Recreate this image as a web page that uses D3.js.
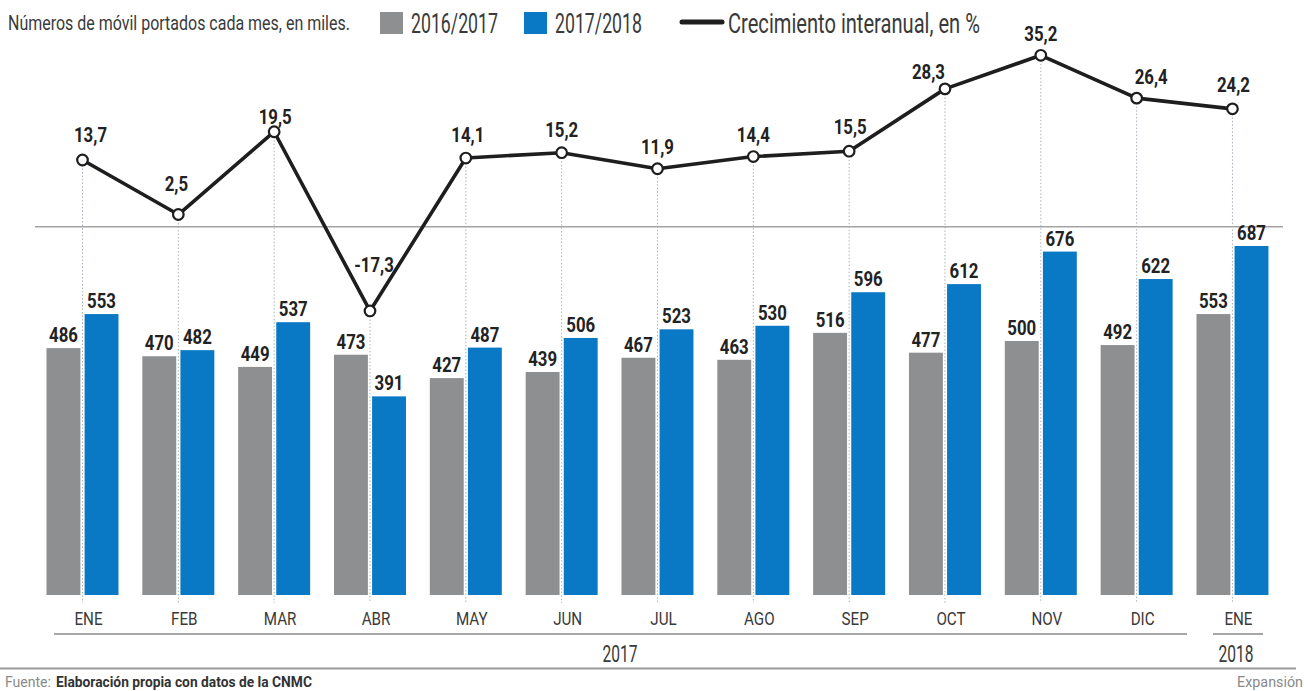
<!DOCTYPE html>
<html><head><meta charset="utf-8">
<script src="https://cdn.jsdelivr.net/npm/d3@7"></script>
<style>
html,body{margin:0;padding:0;background:#fff;}
svg text{font-family:Roboto,"Liberation Sans",sans-serif;}
</style></head>
<body><svg id="c" width="1308" height="691"></svg>
<script>
const months = ["ENE","FEB","MAR","ABR","MAY","JUN","JUL","AGO","SEP","OCT","NOV","DIC","ENE"];
const years = ["2017","2018"];
const series2016 = [486,470,449,473,427,439,467,463,516,477,500,492,553];
const series2017 = [553,482,537,391,487,506,523,530,596,612,676,622,687];
const growth = [13.7,2.5,19.5,-17.3,14.1,15.2,11.9,14.4,15.5,28.3,35.2,26.4,24.2];
const seriesNames = ["2016/2017","2017/2018"];
const title = "Números de móvil portados cada mes, en miles.";
const lineName = "Crecimiento interanual, en %";
const sourceLabel = "Fuente:";
const sourceText = "Elaboración propia con datos de la CNMC";
const brand = "Expansión";

const GRAY = "#8e8f91", BLUE = "#0a79c5", INK = "#1e1e1e", TXT = "#3a3a3a";
const svg = d3.select("#c");
const fmt = v => String(v).replace(".", ",");

// condensed text: glyphs scaled horizontally around their anchor point
function condensed(sel, fx, fy, f){
  return sel.attr("x",0).attr("y",0)
    .attr("transform",(d,i)=>`translate(${fx(d,i)},${fy(d,i)}) scale(${f},1)`);
}
function single(x, y, str, width, attrs){
  const t = svg.append("text").text(str);
  Object.entries(attrs).forEach(([k,v])=>t.attr(k,v));
  const w = t.node().getComputedTextLength();
  t.attr("transform",`translate(${x},${y}) scale(${width/w},1)`);
  return t;
}

const idx = d3.range(months.length);
const step = 95.83;
const x0 = d3.scaleBand().domain(idx).range([82.5 - step/2, 82.5 - step/2 + step*13])
  .paddingInner(0.2487).paddingOuter(0.1243);
const x1 = d3.scaleBand().domain([0,1]).range([0, x0.bandwidth()]).paddingInner(0.11);
const cx = i => x0(i) + x0.bandwidth()/2;
const yBar = d3.scaleLinear().domain([0,700]).range([595, 595 - 700*0.508]);
const yLine = d3.scaleLinear().domain([-20,40]).range([226.7 + 20*4.87, 226.7 - 40*4.87]);

// zero line of growth
svg.append("line").attr("x1",35).attr("x2",1283).attr("y1",yLine(0)).attr("y2",yLine(0))
  .attr("stroke","#a3a3a3").attr("stroke-width",1.6);

// dotted guides
svg.append("g").selectAll("line").data(idx).join("line")
  .attr("x1",i=>cx(i)).attr("x2",i=>cx(i))
  .attr("y1",i=>yLine(growth[i])+5).attr("y2",603)
  .attr("stroke","#a9b2bb").attr("stroke-width",1).attr("stroke-dasharray","1.5,2");

// bars
const sets = [series2016, series2017];
const cols = [GRAY, BLUE];
sets.forEach((s,k)=>{
  svg.append("g").selectAll("rect").data(idx).join("rect")
    .attr("x",i=>x0(i)+x1(k)).attr("width",x1.bandwidth())
    .attr("y",i=>yBar(s[i])).attr("height",i=>yBar(0)-yBar(s[i]))
    .attr("fill",cols[k]);
  condensed(svg.append("g").selectAll("text").data(idx).join("text")
    .attr("text-anchor","middle").attr("font-size",21).attr("font-weight","bold")
    .attr("fill","#222").text(i=>s[i]),
    i=>x0(i)+x1(k)+x1.bandwidth()/2, i=>yBar(s[i])-6, 0.8);
});

// line
svg.append("path").datum(idx)
  .attr("d", d3.line().x(i=>cx(i)).y(i=>yLine(growth[i])))
  .attr("fill","none").attr("stroke",INK).attr("stroke-width",3.6).attr("stroke-linejoin","round");
svg.append("g").selectAll("circle").data(idx).join("circle")
  .attr("cx",i=>cx(i)).attr("cy",i=>yLine(growth[i])).attr("r",5.3)
  .attr("fill","#fff").attr("stroke",INK).attr("stroke-width",2.2);

// label placement (layout only)
const place = {0:[8,-18,"middle"],1:[-2,-24,"middle"],2:[1,-8,"middle"],3:[4,-39,"middle"],
  4:[2,-16,"middle"],5:[0,-16,"middle"],6:[0,-15,"middle"],7:[0,-15,"middle"],8:[1,-17,"middle"],
  9:[0,-10,"end"],10:[0,-14,"middle"],11:[-2,-14,"start"],12:[1,-17,"middle"]};
condensed(svg.append("g").selectAll("text").data(idx).join("text")
  .attr("text-anchor",i=>place[i][2]).attr("font-size",21).attr("font-weight","bold")
  .attr("fill","#222").text(i=>fmt(growth[i])),
  i=>cx(i)+place[i][0], i=>yLine(growth[i])+place[i][1], 0.8);

// x axis labels
condensed(svg.append("g").selectAll("text").data(idx).join("text")
  .attr("text-anchor","middle").attr("font-size",19).attr("fill",TXT).text(i=>months[i]),
  i=>cx(i)+6, ()=>625, 0.8);

// year brackets
svg.append("line").attr("x1",54).attr("x2",1187).attr("y1",634).attr("y2",634).attr("stroke","#8a8a8a").attr("stroke-width",1.5);
svg.append("line").attr("x1",1213).attr("x2",1263).attr("y1",634).attr("y2",634).attr("stroke","#8a8a8a").attr("stroke-width",1.5);
single(620,662,years[0],35,{"text-anchor":"middle","font-size":23,"fill":TXT});
single(1236,662,years[1],35,{"text-anchor":"middle","font-size":23,"fill":TXT});
svg.append("line").attr("x1",0).attr("x2",1296).attr("y1",668.5).attr("y2",668.5).attr("stroke","#9a9a9a").attr("stroke-width",2);

// footer
single(5,687,sourceLabel,46,{"font-size":15,"fill":"#8a8a8a"});
single(56,687,sourceText,256,{"font-size":15,"font-weight":"bold","fill":"#333"});
single(1303,687,brand,66,{"text-anchor":"end","font-size":15,"fill":"#8a8a8a"});

// header
single(8,30,title,342,{"font-size":21,"fill":TXT});
svg.append("rect").attr("x",380).attr("y",12).attr("width",23).attr("height",22).attr("fill",GRAY);
single(411,33,seriesNames[0],87,{"font-size":27.5,"fill":TXT});
svg.append("rect").attr("x",524).attr("y",12).attr("width",23).attr("height",22).attr("fill",BLUE);
single(555,33,seriesNames[1],87,{"font-size":27.5,"fill":TXT});
svg.append("line").attr("x1",682).attr("x2",722).attr("y1",22).attr("y2",22).attr("stroke",INK).attr("stroke-width",5).attr("stroke-linecap","round");
single(728,33,lineName,252,{"font-size":27.5,"fill":TXT});
</script></body></html>
